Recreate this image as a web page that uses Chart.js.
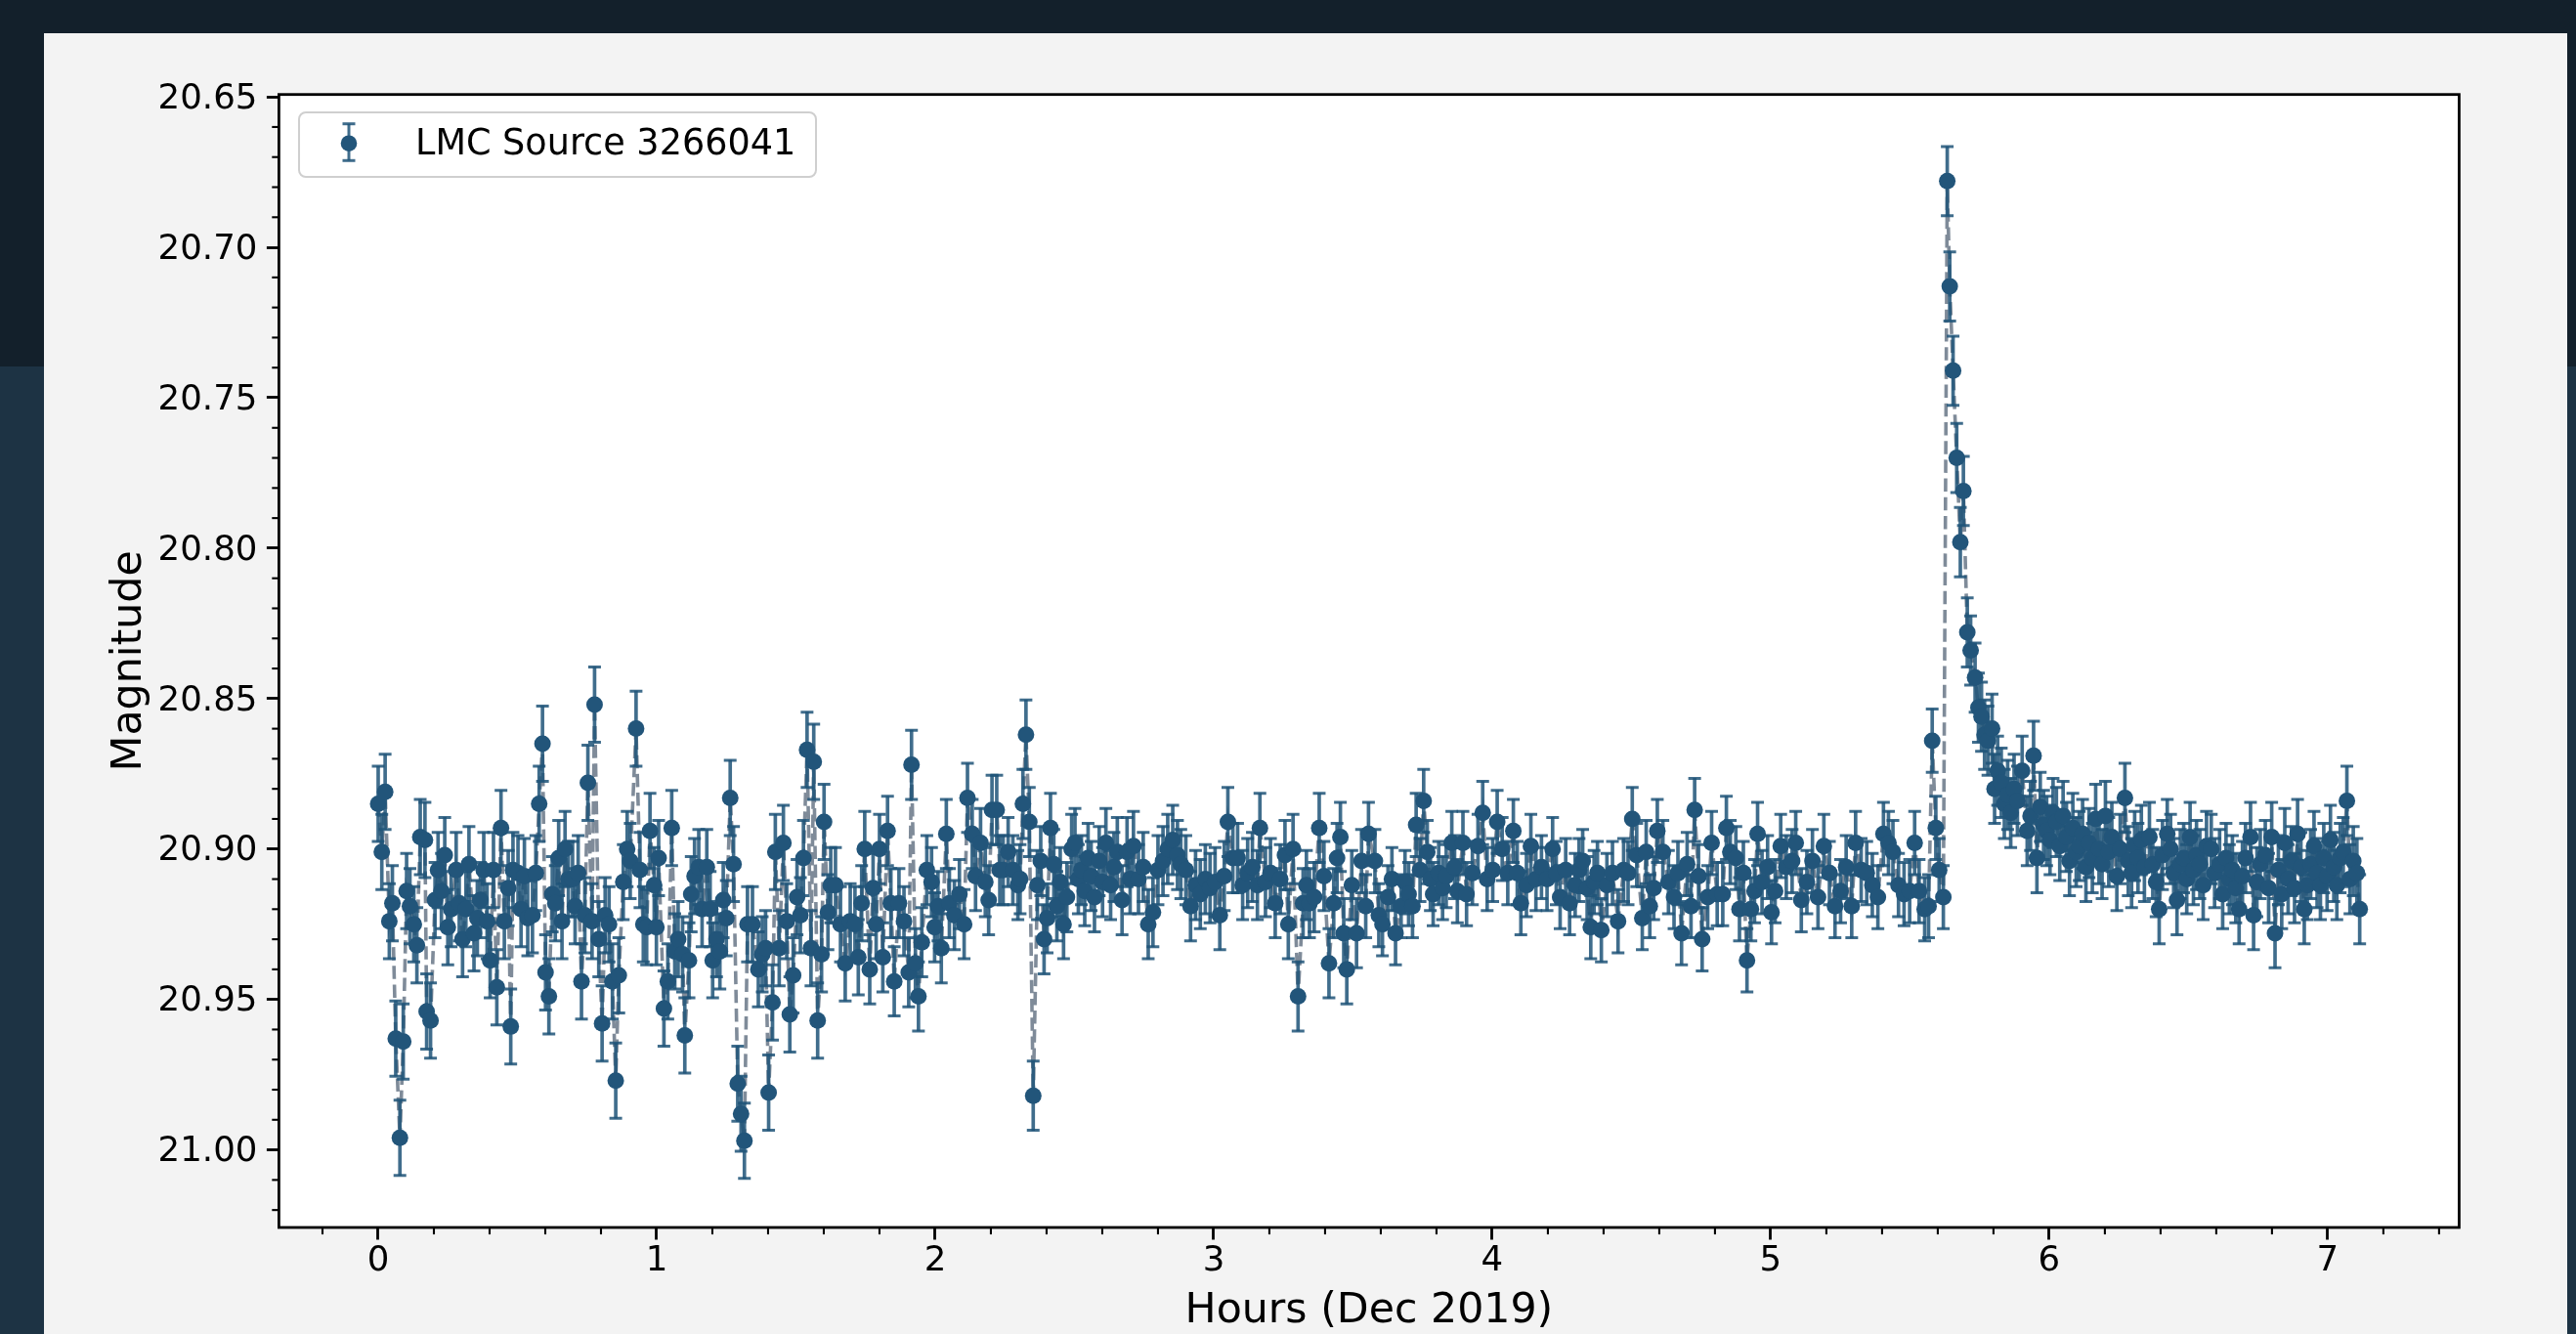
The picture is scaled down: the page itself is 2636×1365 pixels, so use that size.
<!DOCTYPE html>
<html>
<head>
<meta charset="utf-8">
<script src="https://cdn.jsdelivr.net/npm/chart.js@4/dist/chart.umd.min.js"></script>
<style>
html,body{margin:0;padding:0;width:2636px;height:1365px;overflow:hidden;background:#13202b;font-family:'DejaVu Sans',sans-serif;}
#glow{position:absolute;left:0;top:375px;width:2636px;height:990px;background:#1d3344;}
#panel{position:absolute;left:45px;top:34px;width:2582px;height:1331px;background:#f3f3f3;}
#c{position:absolute;left:0;top:0;}
#legendBox{position:absolute;left:305px;top:114px;width:531px;height:68px;box-sizing:border-box;border:2.5px solid #cfcfcf;border-radius:8px;background:rgba(255,255,255,0.8);}
#legendIcon{position:absolute;left:343px;top:118px;width:28px;height:56px;}
#legendText{position:absolute;left:425px;top:128px;font-size:36.6px;line-height:36.6px;color:#000;white-space:nowrap;}
</style>
</head>
<body>
<div id="glow"></div>
<div id="panel"></div>
<canvas id="c" width="2636" height="1365"></canvas>
<div id="legendBox"></div>
<svg id="legendIcon" width="28" height="56" viewBox="0 0 28 56">
  <line x1="14" y1="8.7" x2="14" y2="46.3" stroke="rgba(31,84,120,0.85)" stroke-width="3"/>
  <line x1="7.5" y1="8.7" x2="20.5" y2="8.7" stroke="rgba(31,84,120,0.85)" stroke-width="3"/>
  <line x1="7.5" y1="46.3" x2="20.5" y2="46.3" stroke="rgba(31,84,120,0.85)" stroke-width="3"/>
  <circle cx="14" cy="28.7" r="8.3" fill="#22557a"/>
</svg>
<div id="legendText"></div>
<script>
// ---------------- data ----------------
// Segment A: 0 - 1.75 h (noisy early part)
const hoursA = [
0.000,0.013,0.025,0.040,0.051,0.063,0.078,0.090,0.102,0.114,
0.128,0.139,0.151,0.168,0.174,0.188,0.204,0.215,0.227,0.239,
0.250,0.262,0.280,0.291,0.303,0.315,0.326,0.344,0.356,0.367,
0.379,0.391,0.402,0.414,0.426,0.441,0.453,0.467,0.476,0.484,
0.502,0.513,0.525,0.537,0.554,0.566,0.578,0.590,0.601,0.613,
0.625,0.636,0.648,0.660,0.671,0.683,0.698,0.707,0.718,0.730,
0.742,0.753,0.768,0.777,0.792,0.804,0.815,0.829,0.841,0.853,
0.864,0.880,0.894,0.905,0.926,0.940,0.952,0.964,0.976,0.991,
0.999,1.007,1.026,1.040,1.054,1.065,1.077,1.093,1.101,1.116,
1.124,1.136,1.151,1.163,1.180,1.192,1.201,1.215,1.227,1.239,
1.250,1.264,1.276,1.291,1.303,1.315,1.326,1.344,1.365,1.379,
1.391,1.402,1.416,1.426,1.440,1.455,1.467,1.478,1.490,1.504,
1.516,1.527,1.540,1.554,1.564,1.578,1.592,1.601,1.615,1.625,
1.642,1.660,1.677,1.695,1.712,1.724,1.736,1.747];
const magA = [
20.885,20.901,20.881,20.924,20.918,20.963,20.996,20.964,20.914,20.919,
20.925,20.932,20.896,20.897,20.954,20.957,20.917,20.907,20.914,20.902,
20.926,20.920,20.907,20.918,20.930,20.920,20.905,20.928,20.923,20.917,
20.907,20.924,20.937,20.907,20.946,20.893,20.924,20.913,20.959,20.907,
20.908,20.920,20.909,20.923,20.922,20.908,20.885,20.865,20.941,20.949,
20.915,20.918,20.903,20.924,20.900,20.910,20.910,20.919,20.908,20.944,
20.922,20.878,20.924,20.852,20.930,20.958,20.922,20.925,20.944,20.977,
20.942,20.911,20.900,20.904,20.860,20.907,20.925,20.926,20.894,20.912,
20.926,20.903,20.953,20.944,20.893,20.934,20.930,20.935,20.962,20.937,
20.915,20.909,20.906,20.920,20.906,20.920,20.937,20.930,20.934,20.917,
20.923,20.883,20.905,20.978,20.988,20.997,20.925,20.925,20.940,20.935,
20.933,20.981,20.951,20.901,20.933,20.898,20.924,20.955,20.942,20.916,
20.922,20.903,20.867,20.933,20.871,20.957,20.935,20.891,20.921,20.912,
20.912,20.925,20.938,20.924,20.925,20.936,20.918,20.900];

// Segment B: 1.75 - 3.52 h
const hoursB = [
1.765,1.777,1.788,1.800,1.812,1.829,1.841,1.853,1.870,1.888,
1.905,1.915,1.929,1.940,1.952,1.970,1.987,1.998,2.010,2.022,
2.040,2.051,2.069,2.087,2.104,2.116,2.133,2.145,2.163,2.180,
2.192,2.204,2.221,2.232,2.244,2.262,2.279,2.297,2.305,2.315,
2.326,2.338,2.352,2.367,2.379,2.391,2.402,2.414,2.426,2.437,
2.449,2.461,2.473,2.490,2.502,2.514,2.525,2.537,2.549,2.560,
2.572,2.589,2.601,2.613,2.630,2.642,2.654,2.671,2.689,2.700,
2.712,2.730,2.747,2.765,2.782,2.800,2.818,2.835,2.853,2.870,
2.882,2.900,2.917,2.935,2.952,2.970,2.987,3.005,3.022,3.038,
3.051,3.069,3.086,3.104,3.122,3.139,3.157,3.166,3.186,3.204,
3.221,3.239,3.256,3.268,3.285,3.303,3.321,3.333,3.344,3.361,
3.379,3.396,3.414,3.431,3.443,3.455,3.467,3.478,3.496,3.513];
const magB = [
20.940,20.913,20.925,20.900,20.936,20.894,20.918,20.944,20.918,20.924,
20.941,20.872,20.938,20.949,20.931,20.907,20.911,20.926,20.919,20.933,
20.895,20.918,20.922,20.915,20.925,20.883,20.895,20.909,20.898,20.911,
20.917,20.887,20.887,20.907,20.907,20.901,20.907,20.912,20.910,20.885,
20.862,20.891,20.982,20.912,20.904,20.930,20.923,20.893,20.905,20.919,
20.911,20.925,20.916,20.900,20.898,20.910,20.907,20.914,20.903,20.909,
20.916,20.904,20.911,20.898,20.912,20.906,20.901,20.917,20.901,20.910,
20.899,20.910,20.906,20.925,20.921,20.907,20.904,20.900,20.897,20.902,
20.905,20.907,20.919,20.912,20.915,20.910,20.913,20.911,20.922,20.909,
20.891,20.903,20.903,20.912,20.908,20.906,20.912,20.893,20.911,20.908,
20.918,20.910,20.902,20.925,20.900,20.949,20.918,20.912,20.918,20.916,
20.893,20.909,20.938,20.918,20.903,20.896,20.928,20.940,20.912,20.928];

// Segment C: 3.53 - 5.62 h (quiet part, up to the flare onset)
const hoursC = [
3.531,3.546,3.556,3.579,3.593,3.606,3.626,3.640,3.653,3.673,
3.687,3.700,3.714,3.727,3.741,3.754,3.767,3.778,3.788,3.808,
3.822,3.835,3.855,3.865,3.875,3.895,3.908,3.929,3.949,3.966,
3.982,4.002,4.018,4.036,4.056,4.076,4.090,4.103,4.123,4.139,
4.157,4.177,4.197,4.217,4.230,4.244,4.264,4.278,4.298,4.312,
4.325,4.341,4.354,4.366,4.378,4.392,4.412,4.432,4.452,4.472,
4.488,4.503,4.519,4.539,4.553,4.566,4.580,4.593,4.613,4.633,
4.653,4.667,4.680,4.700,4.714,4.727,4.741,4.754,4.774,4.788,
4.808,4.828,4.841,4.855,4.875,4.888,4.902,4.915,4.929,4.942,
4.953,4.969,4.989,5.003,5.016,5.036,5.056,5.077,5.090,5.110,
5.130,5.150,5.170,5.191,5.211,5.231,5.251,5.271,5.291,5.305,
5.325,5.345,5.365,5.385,5.405,5.423,5.439,5.459,5.479,5.499,
5.517,5.533,5.553,5.567,5.580,5.593,5.605,5.620];
const magC = [
20.904,20.919,20.895,20.904,20.922,20.925,20.916,20.910,20.928,20.919,
20.911,20.915,20.919,20.892,20.907,20.884,20.901,20.910,20.915,20.908,
20.913,20.909,20.898,20.906,20.914,20.898,20.915,20.908,20.899,20.888,
20.910,20.907,20.891,20.900,20.908,20.894,20.908,20.918,20.912,20.899,
20.910,20.906,20.910,20.900,20.908,20.916,20.907,20.918,20.912,20.907,
20.904,20.913,20.926,20.911,20.908,20.927,20.912,20.908,20.924,20.907,
20.908,20.890,20.902,20.923,20.901,20.919,20.913,20.894,20.901,20.911,
20.916,20.908,20.928,20.905,20.919,20.887,20.909,20.930,20.916,20.898,
20.915,20.915,20.893,20.901,20.903,20.920,20.908,20.937,20.920,20.914,
20.895,20.911,20.906,20.921,20.914,20.899,20.906,20.904,20.898,20.917,
20.911,20.904,20.916,20.899,20.908,20.919,20.914,20.906,20.919,20.898,
20.907,20.908,20.912,20.916,20.895,20.898,20.901,20.912,20.915,20.914,
20.898,20.914,20.920,20.919,20.864,20.893,20.907,20.916];

// Segment D: flare peak and decay, 5.63 - 7.12 h
const hoursD = [
5.634,5.643,5.655,5.668,5.681,5.692,5.706,5.718,5.734,5.746,
5.757,5.768,5.780,5.795,5.804,5.815,5.828,5.839,5.851,5.862,
5.874,5.886,5.903,5.921,5.933,5.944,5.956,5.968,5.980,5.991,
6.003,6.014,6.026,6.038,6.050,6.062,6.073,6.085,6.097,6.108,
6.120,6.132,6.143,6.155,6.167,6.179,6.190,6.202,6.214,6.225,
6.243,6.255,6.272,6.284,6.296,6.307,6.319,6.331,6.342,6.360,
6.372,6.384,6.395,6.407,6.424,6.436,6.447,6.459,6.471,6.483,
6.494,6.506,6.518,6.529,6.541,6.553,6.565,6.582,6.594,6.612,
6.623,6.635,6.647,6.658,6.670,6.682,6.694,6.705,6.723,6.734,
6.746,6.758,6.776,6.788,6.799,6.811,6.823,6.835,6.846,6.858,
6.870,6.881,6.892,6.904,6.916,6.927,6.939,6.951,6.962,6.974,
6.986,6.998,7.010,7.022,7.033,7.045,7.056,7.069,7.080,7.092,
7.105,7.115];
const magD = [
20.678,20.713,20.741,20.770,20.798,20.781,20.828,20.834,20.843,20.853,
20.856,20.862,20.864,20.860,20.880,20.874,20.878,20.885,20.882,20.888,
20.880,20.884,20.874,20.894,20.889,20.869,20.903,20.886,20.892,20.894,
20.897,20.888,20.891,20.899,20.889,20.896,20.904,20.893,20.901,20.899,
20.895,20.906,20.898,20.903,20.890,20.900,20.905,20.889,20.901,20.896,
20.909,20.900,20.883,20.904,20.908,20.899,20.903,20.897,20.906,20.896,
20.905,20.911,20.920,20.902,20.895,20.900,20.908,20.917,20.905,20.903,
20.910,20.896,20.907,20.902,20.905,20.912,20.899,20.900,20.908,20.905,
20.915,20.903,20.910,20.907,20.913,20.920,20.909,20.903,20.896,20.922,
20.911,20.905,20.902,20.913,20.896,20.928,20.907,20.915,20.898,20.910,
20.904,20.913,20.895,20.906,20.920,20.912,20.905,20.899,20.908,20.912,
20.903,20.909,20.897,20.906,20.912,20.903,20.901,20.884,20.910,20.904,
20.908,20.920];

// typical 1-sigma error bar half-length of each segment (mag)
const segmentErrors = [0.0125, 0.0115, 0.0105, 0.0115];

// axes
const xTickValues = [0, 1, 2, 3, 4, 5, 6, 7];
const yTickValues = [20.65, 20.70, 20.75, 20.80, 20.85, 20.90, 20.95, 21.00];
const xLimits = [-0.3565, 7.472];
const yLimits = [20.6492, 21.0258];
const xMinorStep = 0.2;
const yMinorStep = 0.01;

// texts
const seriesLabel = 'LMC Source 3266041';
const xTitle = 'Hours (Dec 2019)';
const yTitle = 'Magnitude';

// ---------------- build ----------------
document.getElementById('legendText').textContent = seriesLabel;

const segments = [[hoursA, magA], [hoursB, magB], [hoursC, magC], [hoursD, magD]];
const points = [];
segments.forEach(([h, m], si) => {
  if (h.length !== m.length) console.error('segment length mismatch', si, h.length, m.length);
  h.forEach((t, i) => points.push({ x: t, y: m[i], e: segmentErrors[si] }));
});

const markerData = points.map(p => ({ x: p.x, y: p.y }));
const stemData = points.map(p => ({ x: p.x, y: [p.y - p.e, p.y + p.e] }));
const capData = [];
points.forEach(p => { capData.push({ x: p.x, y: p.y - p.e }); capData.push({ x: p.x, y: p.y + p.e }); });

function minorValues(lo, hi, step, majors) {
  const out = [];
  const start = Math.ceil(lo / step - 1e-9);
  const end = Math.floor(hi / step + 1e-9);
  for (let k = start; k <= end; k++) {
    const v = +(k * step).toFixed(6);
    if (!majors.some(m => Math.abs(m - v) < 1e-6)) out.push(v);
  }
  return out;
}
const xMinor = minorValues(xLimits[0], xLimits[1], xMinorStep, xTickValues);
const yMinor = minorValues(yLimits[0], yLimits[1], yMinorStep, yTickValues);

const FONT = 'DejaVu Sans';
const MARKER = '#22557a';
const ECOLOR = 'rgba(31,84,120,0.85)';

const framePlugin = {
  id: 'frameAndMinorTicks',
  beforeDraw(chart) {
    const { ctx, chartArea: a } = chart;
    ctx.save();
    ctx.fillStyle = '#ffffff';
    ctx.fillRect(a.left, a.top, a.right - a.left, a.bottom - a.top);
    ctx.restore();
  },
  afterDraw(chart) {
    const { ctx, chartArea: a } = chart;
    const xs = chart.scales.x, ys = chart.scales.y;
    ctx.save();
    ctx.strokeStyle = '#000';
    ctx.lineWidth = 2.1;
    xMinor.forEach(v => {
      const px = xs.getPixelForValue(v);
      ctx.beginPath(); ctx.moveTo(px, a.bottom); ctx.lineTo(px, a.bottom + 7.1); ctx.stroke();
    });
    yMinor.forEach(v => {
      const py = ys.getPixelForValue(v);
      ctx.beginPath(); ctx.moveTo(a.left, py); ctx.lineTo(a.left - 7.1, py); ctx.stroke();
    });
    ctx.lineWidth = 2.8;
    ctx.strokeRect(a.left, a.top, a.right - a.left, a.bottom - a.top);
    ctx.restore();
  }
};

Chart.defaults.font.family = FONT;
Chart.defaults.color = '#000';

new Chart(document.getElementById('c').getContext('2d'), {
  type: 'scatter',
  data: {
    datasets: [
      {
        type: 'scatter', label: seriesLabel, data: markerData,
        pointRadius: 8.5, pointBackgroundColor: MARKER, pointBorderColor: MARKER, pointBorderWidth: 0,
        order: 0
      },
      {
        type: 'scatter', label: 'caps', data: capData,
        pointStyle: 'line', pointRadius: 6.5, pointBorderWidth: 3,
        pointBorderColor: ECOLOR, pointBackgroundColor: ECOLOR,
        order: 1
      },
      {
        type: 'bar', label: 'errors', data: stemData,
        backgroundColor: ECOLOR, borderWidth: 0, barThickness: 3,
        order: 2
      },
      {
        type: 'line', label: 'trend', data: markerData,
        borderColor: 'rgba(95,110,128,0.8)', borderWidth: 3.6, borderDash: [13.5, 5.7],
        pointRadius: 0, fill: false, tension: 0, showLine: true,
        order: 3
      }
    ]
  },
  options: {
    responsive: false,
    devicePixelRatio: 1,
    animation: false,
    events: [],
    layout: { padding: { left: 0, top: 96.7, right: 119.6, bottom: 0 } },
    plugins: { legend: { display: false }, tooltip: { enabled: false } },
    scales: {
      x: {
        type: 'linear', position: 'bottom',
        min: xLimits[0], max: xLimits[1], offset: false, beginAtZero: false,
        afterBuildTicks: s => { s.ticks = xTickValues.map(v => ({ value: v })); },
        afterFit: s => { s.height = 109; },
        ticks: {
          autoSkip: false, maxRotation: 0, minRotation: 0, padding: 1,
          color: '#000', font: { size: 35.6, family: FONT },
          callback: v => String(v)
        },
        grid: {
          display: true, drawOnChartArea: false, drawTicks: true, offset: false,
          tickLength: 12.5, tickWidth: 2.8, tickColor: '#000', color: '#000'
        },
        border: { display: false },
        title: {
          display: true, text: xTitle, color: '#000',
          font: { size: 42.7, family: FONT }, padding: { top: 0, bottom: -3 }
        }
      },
      y: {
        type: 'linear', position: 'left', reverse: true,
        min: yLimits[0], max: yLimits[1], beginAtZero: false,
        afterBuildTicks: s => { s.ticks = yTickValues.map(v => ({ value: v })); },
        afterFit: s => { s.width = 285.4; },
        ticks: {
          autoSkip: false, padding: 9.5, labelOffset: 2.5,
          color: '#000', font: { size: 35.6, family: FONT },
          callback: v => Number(v).toFixed(2)
        },
        grid: {
          display: true, drawOnChartArea: false, drawTicks: true,
          tickLength: 12.5, tickWidth: 2.8, tickColor: '#000', color: '#000'
        },
        border: { display: false },
        title: {
          display: true, text: yTitle, color: '#000',
          font: { size: 42.7, family: FONT }, padding: { top: 107, bottom: 0 }
        }
      }
    }
  },
  plugins: [framePlugin]
});
</script>
</body>
</html>
